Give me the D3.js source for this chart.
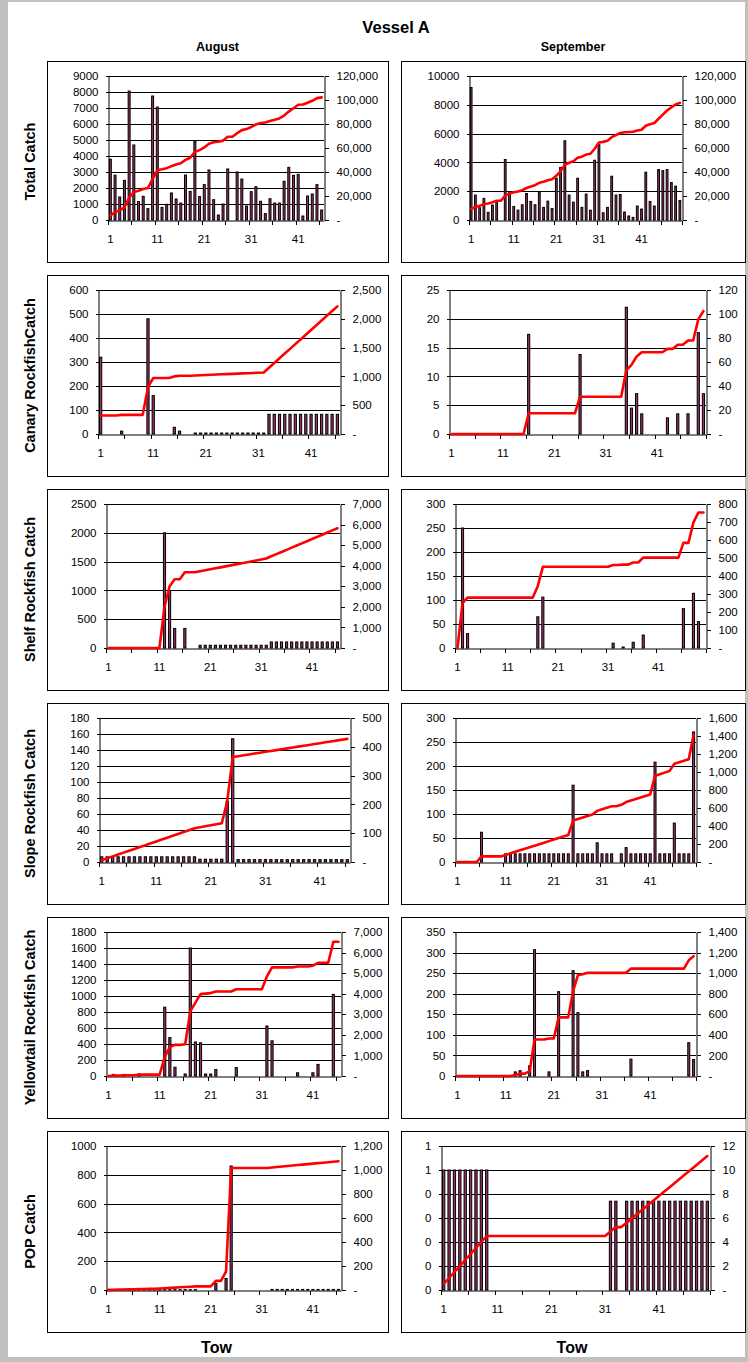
<!DOCTYPE html>
<html>
<head>
<meta charset="utf-8">
<script src="https://cdn.jsdelivr.net/npm/d3@7"></script>
<style>
  html, body { margin: 0; padding: 0; background: #c0c0c0; }
  svg { display: block; font-family: Arial, "Liberation Sans", sans-serif; }
</style>
</head>
<body>
<svg id="chart" width="748" height="1362"></svg>
<script>
// ---- Tow numbers ----
const augustTows = d3.range(1, 47);      // 46 tows
const septemberTows = d3.range(1, 51);   // 50 tows
const xTickLabels = [1, 11, 21, 31, 41];

// ---- Per-tow catch, August ----
const augTotal = [3800, 2800, 1440, 2480, 8060, 4690, 1150, 1480, 710, 7750,
  7060, 790, 980, 1690, 1310, 1060, 2810, 1790, 4920, 1460,
  2210, 3125, 1270, 310, 1000, 3190, 0, 3000, 2560, 875,
  1770, 2080, 1170, 400, 1330, 1060, 1060, 2420, 3290, 2790,
  2850, 250, 1500, 1625, 2210, 625];
const augCanary = [320, 0, 0, 0, 12, 0, 0, 0, 0, 480,
  160, 0, 0, 0, 28, 12, 0, 0, 4, 4,
  4, 4, 4, 4, 4, 4, 4, 4, 4, 4,
  4, 4, 82, 82, 82, 82, 82, 82, 82, 82,
  82, 82, 82, 82, 82, 82];
const augShelf = [0, 0, 0, 0, 0, 0, 0, 0, 0, 0,
  0, 2000, 1000, 340, 0, 340, 0, 0, 48, 48,
  48, 48, 48, 48, 48, 48, 48, 48, 48, 48,
  48, 48, 105, 105, 105, 105, 105, 105, 105, 105,
  105, 105, 105, 105, 105, 105];
const augSlope = [6.5, 6.5, 6.5, 6.5, 6.5, 6.5, 6.5, 6.5, 6.5, 6.5,
  6.5, 6.5, 6.5, 6.5, 6.5, 6.5, 6.5, 6.5, 3.5, 3.5,
  3.5, 3.5, 3.5, 76, 154, 3, 3, 3, 3, 3,
  3, 3, 3, 3, 3, 3, 3, 3, 3, 3,
  3, 3, 3, 3, 3, 3];
const augYellowtail = [0, 20, 0, 20, 0, 0, 25, 0, 0, 0,
  0, 860, 480, 110, 0, 25, 1600, 425, 415, 25,
  25, 80, 0, 0, 0, 105, 0, 0, 0, 0,
  0, 625, 440, 0, 0, 0, 0, 40, 0, 0,
  40, 145, 0, 0, 1020, 0];
const augPOP = [1, 1, 1, 1, 1, 1, 1, 1, 1, 1,
  2.5, 2.5, 2.5, 2.5, 2.5, 2.5, 2.5, 2.5, 0, 0,
  0, 46, 0, 80, 861, 0, 0, 0, 0, 0,
  0, 0, 4, 4, 4, 4, 4, 4, 4, 4,
  4, 4, 4, 4, 4, 4];

// ---- Per-tow catch, September ----
const sepTotal = [9200, 1730, 850, 1500, 530, 1040, 1200, 0, 4200, 1900,
  940, 690, 1060, 1840, 1290, 1060, 1935, 875, 1310, 800,
  2900, 3650, 5500, 1730, 1240, 2900, 875, 1800, 680, 4150,
  5230, 500, 875, 3040, 1730, 1770, 550, 280, 180, 970,
  760, 3320, 1290, 970, 3500, 3430, 3500, 2600, 2350, 1360];
const sepCanary = [0, 0, 0, 0, 0, 0, 0, 0, 0, 0,
  0, 0, 0, 0, 0, 17.3, 0, 0, 0, 0,
  0, 0, 0, 0, 0, 13.8, 0, 0, 0, 0,
  0, 0, 0, 0, 22, 4.5, 7, 3.5, 0, 0,
  0, 0, 2.8, 0, 3.5, 0, 3.5, 0, 17.6, 7];
const sepShelf = [0, 250, 30, 0, 0, 0, 0, 0, 0, 0,
  0, 0, 0, 0, 0, 0, 65, 106, 0, 0,
  0, 0, 0, 0, 0, 0, 0, 0, 0, 0,
  0, 10, 0, 2, 0, 12, 0, 27, 0, 0,
  0, 0, 0, 0, 0, 82, 0, 114, 55, 0];
const sepSlope = [0, 0, 0, 0, 0, 62, 0, 0, 0, 0,
  17, 17, 17, 17, 17, 17, 17, 17, 17, 17,
  17, 17, 17, 17, 160, 17, 17, 17, 17, 40,
  17, 17, 17, 0, 17, 30, 17, 17, 17, 17,
  17, 208, 17, 17, 17, 81, 17, 17, 17, 271];
const sepYellowtail = [0, 0, 0, 0, 0, 0, 0, 0, 0, 0,
  0, 0, 10, 13, 0, 25, 307, 0, 0, 10,
  0, 205, 0, 0, 256, 154, 10, 13, 0, 0,
  0, 0, 0, 0, 0, 0, 41, 0, 0, 0,
  0, 0, 0, 0, 0, 0, 0, 0, 81, 40];
const sepPOP = [0.5, 0.5, 0.5, 0.5, 0.5, 0.5, 0.5, 0.5, 0.5, 0,
  0, 0, 0, 0, 0, 0, 0, 0, 0, 0,
  0, 0, 0, 0, 0, 0, 0, 0, 0, 0,
  0, 0.37, 0.37, 0, 0.37, 0.37, 0.37, 0.37, 0.37, 0.37,
  0.37, 0.37, 0.37, 0.37, 0.37, 0.37, 0.37, 0.37, 0.37, 0.37];

// ---- Row titles and axis ranges ([max, step] per axis) ----
const rowTitles = ["Total Catch", "Canary RockfishCatch", "Shelf Rockfish Catch",
  "Slope Rockfish Catch", "Yellowtail Rockfish Catch", "POP Catch"];
const monthTitles = ["August", "September"];
const augLeftAxis  = [[9000, 1000], [600, 100], [2500, 500], [180, 20], [1800, 200], [1000, 200]];
const augRightAxis = [[120000, 20000], [2500, 500], [7000, 1000], [500, 100], [7000, 1000], [1200, 200]];
const sepLeftAxis  = [[10000, 2000], [25, 5], [300, 50], [300, 50], [350, 50], [0.6, 0.1]];
const sepRightAxis = [[120000, 20000], [120, 20], [800, 100], [1600, 200], [1400, 200], [12, 2]];

const augSeries = [augTotal, augCanary, augShelf, augSlope, augYellowtail, augPOP];
const sepSeries = [sepTotal, sepCanary, sepShelf, sepSlope, sepYellowtail, sepPOP];

// ---- Layout ----
const boxLeft = [47, 401], boxWidth = [341, 344];
const boxTop0 = 61, rowStep = 214, boxHeight = 201;
const plotTopInset = 15, plotHeight = 144;
// plot-area left / right edges measured from each box's left edge
const plotInsets = [
  [[61, 277], [68, 281]],
  [[51, 293], [48, 305]],
  [[59, 293], [54, 305]],
  [[52, 303], [54, 295]],
  [[59, 294], [54, 295]],
  [[59, 294], [40, 309]]
];
const tickFont = 11.5;

const svg = d3.select("#chart");
svg.append("rect").attr("x", 8).attr("y", 2).attr("width", 737).attr("height", 1355).attr("fill", "#fff");

svg.append("text").attr("x", 396).attr("y", 33).attr("text-anchor", "middle")
  .attr("font-size", 16.5).attr("font-weight", "bold").text("Vessel A");

monthTitles.forEach((m, c) => {
  svg.append("text").attr("x", boxLeft[c] + boxWidth[c] / 2).attr("y", 51)
    .attr("text-anchor", "middle").attr("font-size", 12.5).attr("font-weight", "bold").text(m);
  svg.append("text").attr("x", boxLeft[c] + boxWidth[c] / 2 - 1).attr("y", 1353)
    .attr("text-anchor", "middle").attr("font-size", 16).attr("font-weight", "bold").text("Tow");
});

const rightFmt = v => v === 0 ? "-" : d3.format(",")(v);

function drawPanel(row, col) {
  const tows = col === 0 ? augustTows : septemberTows;
  const values = (col === 0 ? augSeries : sepSeries)[row];
  const [lMax, lStep] = (col === 0 ? augLeftAxis : sepLeftAxis)[row];
  const [rMax, rStep] = (col === 0 ? augRightAxis : sepRightAxis)[row];
  const cumulative = Array.from(d3.cumsum(values));

  const bx = boxLeft[col], by = boxTop0 + row * rowStep;
  svg.append("rect").attr("x", bx + 0.5).attr("y", by + 0.5)
    .attr("width", boxWidth[col]).attr("height", boxHeight)
    .attr("fill", "#fff").attr("stroke", "#000").attr("stroke-width", 1);

  const [li, ri] = plotInsets[row][col];
  const x0 = bx + li, x1 = bx + ri;
  const y0 = by + plotTopInset, y1 = y0 + plotHeight;

  const x = d3.scaleBand().domain(tows).range([x0, x1]).paddingInner(0.58).paddingOuter(0.29);
  const xEdge = d3.scaleLinear().domain([0, tows.length]).range([x0, x1]);
  const yL = d3.scaleLinear().domain([0, lMax]).range([y1, y0]);
  const yR = d3.scaleLinear().domain([0, rMax]).range([y1, y0]);

  const lTicks = d3.range(0, lMax + lStep / 2, lStep).map(v => Math.round(v * 1e6) / 1e6);
  const rTicks = d3.range(0, rMax + rStep / 2, rStep).map(v => Math.round(v * 1e6) / 1e6);

  const g = svg.append("g");

  // horizontal gridlines on the primary axis
  g.append("g").selectAll("line").data(lTicks.filter(v => v > 0)).join("line")
    .attr("x1", x0).attr("x2", x1)
    .attr("y1", d => Math.round(yL(d)) + 0.5).attr("y2", d => Math.round(yL(d)) + 0.5)
    .attr("stroke", "#000").attr("stroke-width", 1);

  // per-tow catch bars
  g.append("g").selectAll("rect").data(tows.map((t, i) => ({ t, v: values[i] })).filter(d => d.v > 0))
    .join("rect")
    .attr("x", d => x(d.t)).attr("width", x.bandwidth())
    .attr("y", d => yL(d.v)).attr("height", d => y1 - yL(d.v))
    .attr("fill", "#993366").attr("stroke", "#000").attr("stroke-width", 1);

  // left axis
  const leftAxis = d3.axisLeft(yL).tickValues(lTicks).tickSizeInner(3).tickSizeOuter(0).tickPadding(7)
    .tickFormat(row === 5 && col === 1 ? (v => String(Math.round(v))) : d3.format("d"));
  const la = g.append("g").attr("transform", `translate(${Math.round(x0) + 0.5},0)`).call(leftAxis);
  // right axis
  const rightAxis = d3.axisRight(yR).tickValues(rTicks).tickSizeInner(4).tickSizeOuter(0).tickPadding(8)
    .tickFormat(rightFmt);
  const ra = g.append("g").attr("transform", `translate(${Math.round(x1) + 0.5},0)`).call(rightAxis);
  // category axis: tick marks every five tows, labels every ten
  const tickAxis = d3.axisBottom(xEdge).tickValues(d3.range(0, tows.length + 1, 5))
    .tickSizeInner(4).tickSizeOuter(0).tickFormat("");
  const ta = g.append("g").attr("transform", `translate(0,${Math.round(y1) + 0.5})`).call(tickAxis);
  const labelAxis = d3.axisBottom(x).tickValues(xTickLabels).tickSize(0).tickPadding(15);
  const lab = g.append("g").attr("transform", `translate(0,${Math.round(y1)})`).call(labelAxis);
  lab.select(".domain").remove();

  [la, ra, ta, lab].forEach(a => {
    a.selectAll("text").attr("font-size", tickFont).attr("font-family", "Arial, 'Liberation Sans', sans-serif").attr("fill", "#000");
    a.selectAll("line").attr("stroke", "#000").attr("shape-rendering", "crispEdges");
    a.selectAll(".domain").attr("stroke", "#000");
  });

  // cumulative catch line on the secondary axis
  g.append("path").datum(cumulative)
    .attr("fill", "none").attr("stroke", "#ff0000").attr("stroke-width", 2.6)
    .attr("stroke-linejoin", "round").attr("stroke-linecap", "round")
    .attr("d", d3.line().x((d, i) => x(tows[i]) + x.bandwidth() / 2).y(d => yR(d)));
}

for (let r = 0; r < 6; r++) {
  drawPanel(r, 0);
  drawPanel(r, 1);
  const by = boxTop0 + r * rowStep;
  svg.append("text")
    .attr("transform", `translate(30,${by + boxHeight / 2}) rotate(-90)`)
    .attr("text-anchor", "middle").attr("dy", "0.35em")
    .attr("font-size", 14.5).attr("font-weight", "bold").text(rowTitles[r]);
}
</script>
</body>
</html>
